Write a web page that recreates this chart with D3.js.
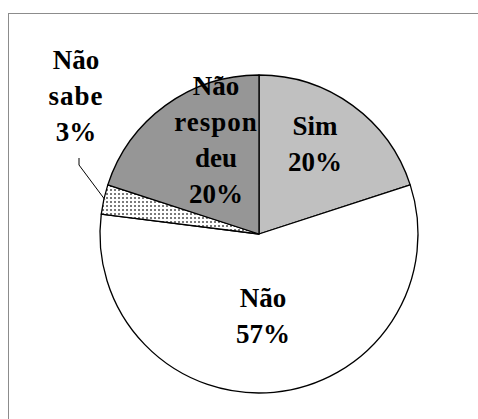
<!DOCTYPE html>
<html>
<head>
<meta charset="utf-8">
<script src="https://cdn.jsdelivr.net/npm/d3@7"></script>
<style>
  body { margin: 0; background: #fff; }
  svg { display: block; }
</style>
</head>
<body>
<svg id="Chart"></svg>
<script>
// data
let categories = ['Sim', 'Não', 'Não sabe', 'Não respondeu'];
let values = [20, 57, 3, 20];
// how each label is broken into lines (as in the original)
let labelLines = [['Sim'], ['Não'], ['Não', 'sabe'], ['Não', 'respon', 'deu']];

function getConfig() {
  let width = 478;
  let height = 419;
  let cx = 259;
  let cy = 234;
  let radius = 159;
  let container = d3.select('#Chart').attr('width', width).attr('height', height);
  return { width, height, cx, cy, radius, container };
}

function drawFrame(config) {
  // chart area border, runs off the right/bottom edge
  config.container.append('rect')
    .attr('x', 8.5).attr('y', 13.5)
    .attr('width', 500).attr('height', 500)
    .attr('fill', 'none')
    .attr('stroke', '#8c8c8c')
    .attr('stroke-width', 1);
}

function addPattern(container) {
  let defs = container.append('defs');
  let p = defs.append('pattern')
    .attr('id', 'hatch')
    .attr('patternUnits', 'userSpaceOnUse')
    .attr('width', 4).attr('height', 4);
  p.append('rect').attr('width', 4).attr('height', 4).attr('fill', '#7a7a7a');
  p.append('rect').attr('x', 1).attr('y', 0).attr('width', 2).attr('height', 4).attr('fill', '#fff');
  p.append('rect').attr('x', 0).attr('y', 1).attr('width', 4).attr('height', 2).attr('fill', '#fff');
}

function drawPie(config) {
  let { container, cx, cy, radius } = config;
  let fills = ['#c0c0c0', '#ffffff', 'url(#hatch)', '#969696'];
  let data = categories.map((c, i) => ({ name: c, value: values[i], idx: i }));

  let pie = d3.pie().value(d => d.value).sort(null);
  let arc = d3.arc().innerRadius(0).outerRadius(radius);
  let arcs = pie(data);

  let body = container.append('g').attr('transform', `translate(${cx},${cy})`);
  body.selectAll('path').data(arcs)
    .enter().append('path')
    .attr('d', arc)
    .attr('fill', d => fills[d.data.idx])
    .attr('stroke', '#000')
    .attr('stroke-width', 1.3)
    .attr('stroke-linejoin', 'round');

  // label anchors (relative to pie centre): centre x, first baseline
  let anchors = [[56, -99], [4, 73], [-183, -165], [-43, -139]];
  let lineH = 36;
  let fmt = d3.format('.0%');
  let total = d3.sum(values);

  // leader line for the small slice
  let s = arcs[2];
  let mid = (s.startAngle + s.endAngle) / 2;
  let ex = Math.sin(mid) * (radius - 1);
  let ey = -Math.cos(mid) * (radius - 1);
  body.append('path')
    .attr('d', `M${-180},${-76}L${-180},${-69}L${ex},${ey}`)
    .attr('fill', 'none')
    .attr('stroke', '#000')
    .attr('stroke-width', 1);

  arcs.forEach((d, i) => {
    let lines = labelLines[i].concat([fmt(d.data.value / total)]);
    let t = body.append('text')
      .style('font-family', '"Liberation Serif", "DejaVu Serif"')
      .attr('font-weight', 'bold')
      .attr('font-size', 27)
      .attr('text-anchor', 'middle')
      .attr('x', anchors[i][0])
      .attr('y', anchors[i][1]);
    lines.forEach((l, j) => {
      t.append('tspan')
        .attr('x', anchors[i][0])
        .attr('dy', j === 0 ? 0 : lineH)
        .attr('letter-spacing', l.length > 3 && !l.includes('%') ? 1 : null)
        .text(l);
    });
  });
}

let config = getConfig();
drawFrame(config);
addPattern(config.container);
drawPie(config);
</script>
</body>
</html>
